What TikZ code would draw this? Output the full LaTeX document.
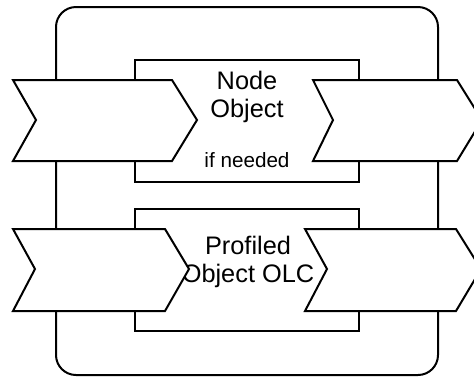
\documentclass[tikz,border=0pt]{standalone}
\usepackage{fontspec}
\setmainfont{Liberation Sans}

\tikzset{
    chev/.style={line width=1.5pt, fill=white, line join=miter},
    lbl/.style={font=\fontsize{19pt}{20.5pt}\selectfont, align=center, inner sep=0pt}
}

\begin{document}
\begin{tikzpicture}[x=0.75pt, y=-0.75pt, line width=1.5pt]
\useasboundingbox (0,0) rectangle (474,376);
\clip (0,0) rectangle (474,376);

% outer frame
\draw[rounded corners=15pt] (56,7) rectangle (438,375);

% inner objects
\draw[fill=white] (135,60) rectangle (359,182);
\draw[fill=white] (135,209) rectangle (359,331);

\node[lbl, anchor=base] (nodeobj) at (247,117) {Node\\Object};
\node[font=\fontsize{15.5pt}{17pt}\selectfont, inner sep=0pt, anchor=base] (ifneeded) at (247,167) {if needed};
\node[lbl, anchor=base] (profobj) at (248,282) {Profiled\\Object OLC};

% chevrons, upper row
\draw[chev] (13,80) -- (172,80) -- (197,120) -- (172,161) -- (13,161) -- (36,120) -- cycle;
\draw[chev] (313,80) -- (457,80) -- (482,120) -- (457,161) -- (313,161) -- (333,120) -- cycle;

% chevrons, lower row
\draw[chev] (13,229) -- (165,229) -- (189,269) -- (165,311) -- (13,311) -- (35,269) -- cycle;
\draw[chev] (305,229) -- (456,229) -- (481,269) -- (456,311) -- (305,311) -- (327,269) -- cycle;
\end{tikzpicture}
\end{document}
